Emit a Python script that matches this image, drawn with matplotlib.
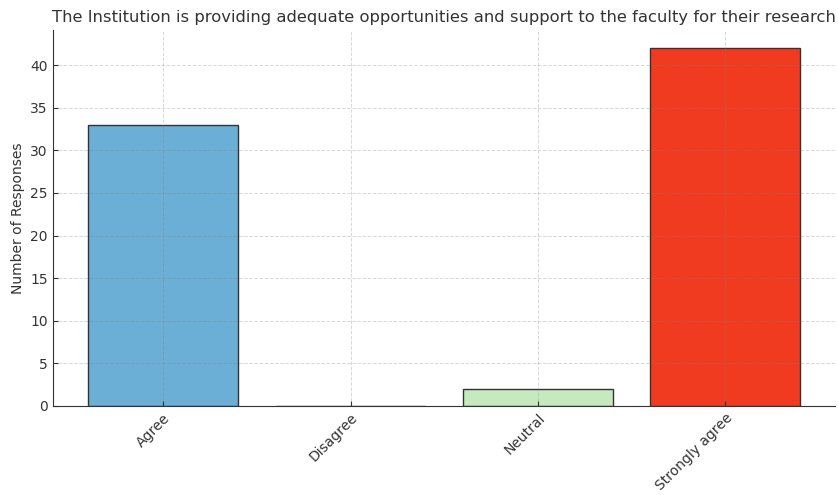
import matplotlib.pyplot as plt
import numpy as np

categories = ["Agree", "Disagree", "Neutral", "Strongly agree"]
responses = [33, 0, 2, 42]
bar_colors = ["#6baed6", "#fdae6b", "#c7e9c0", "#f03b20"]

plt.rcParams['font.family'] = ['DejaVu Sans']
plt.rcParams['text.color'] = '#333333'
plt.rcParams['axes.labelcolor'] = '#333333'
plt.rcParams['xtick.color'] = '#333333'
plt.rcParams['ytick.color'] = '#333333'

fig = plt.figure(figsize=(8.38, 4.95), dpi=100)
ax = fig.add_axes([0.063, 0.18, 0.934, 0.759])

x = np.arange(len(categories))
ax.bar(x, responses, width=0.8, color=bar_colors, edgecolor='#333333', linewidth=1.0)

ax.set_xticks(x)
ax.set_xticklabels(categories, rotation=45, ha='right', rotation_mode='anchor', fontsize=10)
ax.tick_params(axis='both', direction='in', labelsize=10)
ax.set_ylabel("Number of Responses", fontsize=10)
ax.set_title("The Institution is providing adequate opportunities and support to the faculty for their research",
             fontsize=11.8, pad=6)

# grid sits on top of the bars, faint grey
ax.grid(True, linestyle='--', color='grey', alpha=0.3, linewidth=0.7)
ax.set_axisbelow(False)
for s in ['top', 'right']:
    ax.spines[s].set_visible(False)
for s in ['left', 'bottom']:
    ax.spines[s].set_color('#333333')

fig.savefig("out.png", dpi=100)
